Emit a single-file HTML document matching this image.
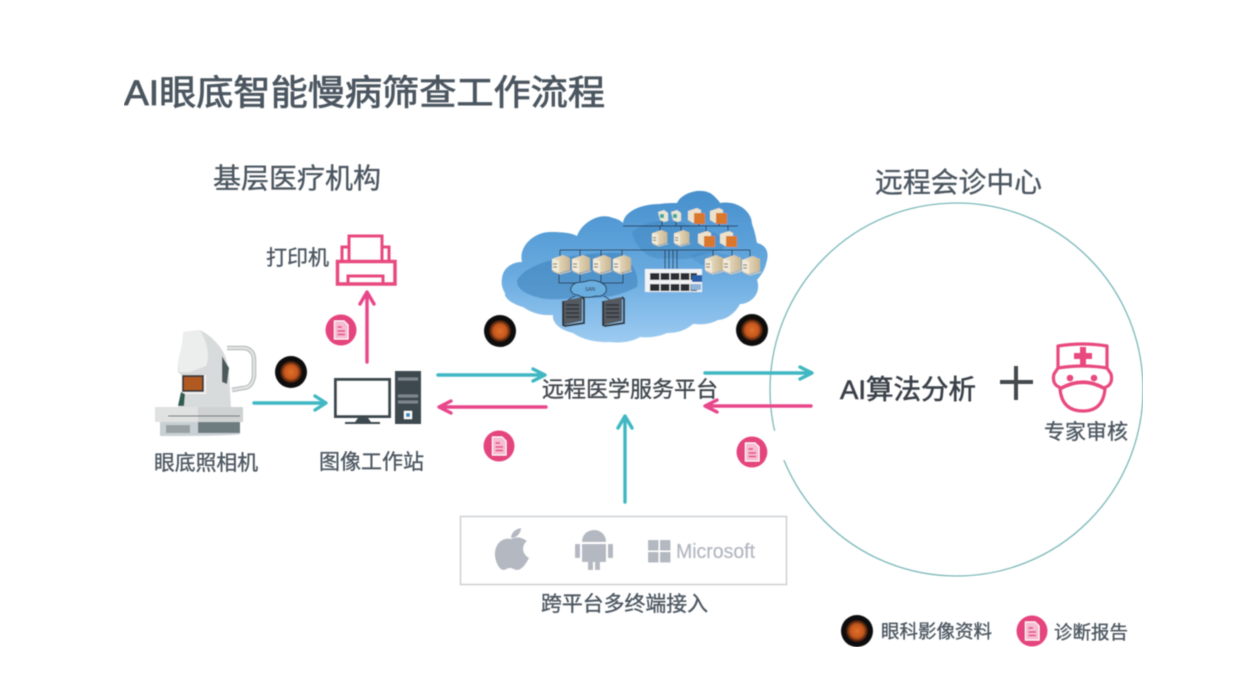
<!DOCTYPE html>
<html><head><meta charset="utf-8">
<style>
html,body{margin:0;padding:0;background:#fff}
svg{display:block}
text{font-family:"Liberation Sans","Noto Sans CJK SC",sans-serif;fill:#4c5660;stroke:#4c5660;stroke-width:.35}
</style></head>
<body>
<svg width="1259" height="696" viewBox="0 0 1259 696" xmlns="http://www.w3.org/2000/svg">
<defs>
<filter id="b" x="0" y="0" width="100%" height="100%"><feGaussianBlur stdDeviation=".45"/></filter>
<linearGradient id="cl" x1="0" y1="0" x2="0" y2="1"><stop offset="0" stop-color="#4790cd"/><stop offset=".55" stop-color="#69abe0"/><stop offset="1" stop-color="#9dcbf1"/></linearGradient>
<radialGradient id="ey"><stop offset="0" stop-color="#e0702a"/><stop offset=".42" stop-color="#c4561c"/><stop offset=".6" stop-color="#5a2a10"/><stop offset=".72" stop-color="#0e0c0b"/><stop offset="1" stop-color="#0e0c0b"/></radialGradient>
<linearGradient id="srv" x1="0" y1="0" x2="1" y2="0"><stop offset="0" stop-color="#f3e9d2"/><stop offset="1" stop-color="#c9b690"/></linearGradient>
<g id="eye"><circle r="16" fill="url(#ey)"/></g>
<g id="doc"><circle r="15.500" fill="#e5447e"/><path d="M-6.500-9H3L7-5V9H-6.500Z" fill="#f6bcd2" stroke="#fff" stroke-width="1"/><path d="M-3.500-3H1M-3.500 1H4M-3.500 4.500H4" stroke="#e5447e" stroke-width="1.400" fill="none"/></g>
<g id="s"><path d="M0 4 11 0 18 3V15L7 18 0 15Z" fill="url(#srv)"/><path d="M0 4 7 6V18L0 15Z" fill="#f2ead8"/><path d="M1 9H5M1 12H5" stroke="#6f624d" stroke-width="1"/><path d="M1 16 8 19 19 16" stroke="#d8ccb0" fill="none"/></g>
<g id="o"><path d="M0 3 9 0 13 2V13L5 15 0 12Z" fill="#ece2cb"/><path d="M6 5H17V16H6Z" fill="#d9782a"/></g>
<g id="r"><path d="M0 4 19 0V24L0 28Z" fill="#555a60"/><path d="M0 4V28L2 29 21 26V2L19 0" fill="none" stroke="#2d3136" stroke-width="2"/><path d="M3 8H16M3 12H16M3 16H16M3 20H16" stroke="#2e3237" stroke-width="1.500"/></g>
</defs>
<rect width="1259" height="696" fill="#fff"/>
<g filter="url(#b)">

<text x="124" y="105" font-size="35" textLength="481" lengthAdjust="spacingAndGlyphs" style="stroke-width:.8">AI眼底智能慢病筛查工作流程</text>
<text x="213" y="188" font-size="28" textLength="168" lengthAdjust="spacingAndGlyphs">基层医疗机构</text>
<text x="875" y="192" font-size="28" textLength="167" lengthAdjust="spacingAndGlyphs">远程会诊中心</text>

<circle cx="956.500" cy="389.500" r="186.500" fill="none" stroke="#7cb8ba" stroke-width="1.300"/>
<rect x="765" y="431" width="22" height="29" fill="#fff"/>

<!-- cloud -->
<path d="M502 278C503 268 512 262 522 262C518 246 535 231 552 232C562 232 572 233 577 236C582 222 600 212 613 218C618 219 621 221 623 223C624 212 640 204 660 204C666 203 672 203 677 203C682 192 704 186 714 196C717 199 719 201 720 203C738 200 752 212 752 224C755 232 756 238 757 243C766 245 769 252 767 260C765 270 762 274 757 280C762 294 750 304 740 304C735 314 725 320 718 320C706 326 698 324 693 324C684 332 674 333 667 333C658 337 648 338 640 337C630 343 618 343 610 342C594 343 580 338 573 333C560 330 552 323 553 315C540 316 530 312 523 307C512 304 504 298 505 293C502 288 501 284 502 278Z" fill="url(#cl)"/>
<path d="M517 280C522 272 530 268 537 265C552 258 590 252 620 253C632 262 640 275 637 287C620 296 600 300 580 297C560 300 545 300 537 297C525 294 516 288 517 280Z" fill="#3f83bd" opacity=".6"/>
<path d="M632 232C650 216 680 220 692 226C712 230 732 238 722 250C700 254 690 262 670 258C650 262 636 250 632 232Z" fill="#3f83bd" opacity=".42"/>
<path d="M690 255C705 250 730 252 745 262C740 272 700 272 690 255Z" fill="#3f83bd" opacity=".3"/>
<path d="M623 226H738M560 250H750M560 250V256M580 250V256M601 250V256M622 250V256M713 250V256M732 250V256M750 250V256M559 272V283H623V272M580 272V283M601 272V283M665 250V270M669 250V270M673 250V270M677 250V270M660 226V232M681 226V232M706 226V232M728 226V232M662 218V226M676 218V226M699 218V226M719 218V226" stroke="#26384c" stroke-width="1" fill="none"/>
<use href="#s" x="552" y="255"/><use href="#s" x="572" y="255"/><use href="#s" x="593" y="255"/><use href="#s" x="613" y="255"/>
<use href="#s" x="705" y="255"/><use href="#s" x="723" y="255"/><use href="#s" x="742" y="256"/>
<use href="#s" transform="translate(652 230) scale(.85)"/><use href="#s" transform="translate(674 230) scale(.85)"/>
<use href="#o" x="698" y="231"/><use href="#o" x="720" y="231"/>
<path d="M658 212 664 210 668 213V221L664 222 660 220Z" fill="#e8e6d5"/><path d="M660 214H664V218H660Z" fill="#3aa9a0"/>
<path d="M671 212 677 210 681 213V221L677 222 673 220Z" fill="#e8e6d5"/><path d="M673 214H677V218H673Z" fill="#3aa9a0"/>
<use href="#o" x="688" y="208"/><use href="#o" x="710" y="208"/>
<rect x="645" y="269" width="57" height="23" fill="#f1f3f5"/>
<path d="M650 273H697V280H650ZM650 284H697V291H650Z" fill="#2c2f33"/>
<path d="M660 273V291M670 273V291M680 273V291M690 273V291" stroke="#eee" stroke-width="1.200"/>
<rect x="692" y="275" width="10" height="7" fill="#2b5fa8"/><rect x="691" y="284" width="10" height="6" fill="#8fb4d8"/>
<path d="M572 286C575 281 583 283 587 281C594 279 603 282 606 287C608 293 602 297 596 296C590 298 582 298 578 295C572 295 569 290 572 286Z" fill="#6aaee0" stroke="#23344a"/>
<text x="585" y="291" font-size="5" style="fill:#223;stroke:none">SAN</text>
<path d="M575 296 568 300M604 296 610 300" stroke="#23344a"/>
<use href="#r" x="563" y="297"/><use href="#r" x="603" y="297"/>

<!-- arrows -->
<g fill="none" stroke-width="3.400" stroke-linecap="round" stroke-linejoin="round">
<g stroke="#3fb7c2">
<path d="M254 403H325M315 396 326 403 315 410"/>
<path d="M438 375H544M533 369 545 375 533 381"/>
<path d="M705 373H811M800 367 812 373 800 379"/>
<path d="M625 502V417M618 428 625 416 632 428"/>
</g>
<g stroke="#e8468a">
<path d="M367 362V293M360 304 367 292 374 304"/>
<path d="M546 407H440M451 401 439 407 451 413"/>
<path d="M811 406H706M717 400 705 406 717 412"/>
</g>
</g>

<!-- printer -->
<g fill="none" stroke="#e84a7f" stroke-width="3">
<path d="M349 260V236H382V260"/>
<path d="M342 260V247H349M382 247H389V260"/>
<path d="M337.500 261.500H395V284H337.500Z" stroke-width="3.500"/>
<path d="M348 284V276H383V284"/>
</g>
<text x="266" y="265" font-size="21" textLength="63" lengthAdjust="spacingAndGlyphs">打印机</text>

<!-- workstation -->
<rect x="335.500" y="379.500" width="54" height="37" fill="#fff" stroke="#3e4a50" stroke-width="3"/>
<path d="M358 418H368L371 422H380V424H345V422H355Z" fill="#3e4a50"/>
<rect x="395" y="371" width="26" height="53" fill="#3e4a50"/>
<path d="M398 379H418M398 396H418M398 402H418" stroke="#7c868b" stroke-width="3"/>
<rect x="404" y="411" width="8" height="8" fill="#fff"/><rect x="406" y="413" width="4" height="4" fill="#2a8fc2"/>
<text x="319" y="469" font-size="21" textLength="105" lengthAdjust="spacingAndGlyphs">图像工作站</text>

<!-- fundus camera -->
<path d="M227 348H245Q254 350 254 360V376Q252 388 243 388L232 390" fill="none" stroke="#b9bdbe" stroke-width="4.500"/>
<path d="M227 348H245Q254 350 254 360V376Q252 388 243 388L232 390" fill="none" stroke="#e4e6e6" stroke-width="2"/>
<path d="M183 332 200 330C212 336 222 347 226 358L229 372 231 408H178L181 393V375L178 372 178 362C180 352 183 345 183 332Z" fill="#d8dbdb"/>
<path d="M183 332 200 330C208 345 210 356 206 366L190 372H179L178 362C180 352 183 345 183 332Z" fill="#eceeee"/>
<path d="M222 356 229 368 227 384 222 382Z" fill="#4d5a5c"/>
<rect x="181" y="375" width="25" height="19" fill="#f2f2f0"/><rect x="182" y="375" width="22" height="17" fill="#3b3a38"/><rect x="184" y="377" width="18" height="13" fill="#b05a22"/>
<path d="M181 392 178 406H184L185 394Z" fill="#2f5c50"/>
<rect x="155" y="407" width="88" height="15" fill="#e0e2e2"/>
<path d="M198 407H243V422H198Z" fill="#cfd2d2"/>
<path d="M160 422H240V434Q236 436 160 436Z" fill="#c9d0d3"/>
<path d="M198 422H240V433H198Z" fill="#6e7c80"/>
<path d="M168 416H240" stroke="#5f6769" stroke-width="1"/>
<path d="M166 425H190V433H166Z" fill="#97a0a3"/>
<text x="154" y="470" font-size="21" textLength="104" lengthAdjust="spacingAndGlyphs">眼底照相机</text>

<!-- icons -->
<use href="#eye" x="291" y="372"/><use href="#eye" x="500" y="331"/><use href="#eye" x="752" y="330"/><use href="#eye" x="857" y="631"/>
<use href="#doc" x="341" y="330"/><use href="#doc" x="499" y="446"/><use href="#doc" x="752" y="452"/><use href="#doc" x="1032" y="631"/>

<text x="542" y="397" font-size="22" textLength="176" lengthAdjust="spacingAndGlyphs" style="fill:#3f464d;stroke:#3f464d">远程医学服务平台</text>
<text x="840" y="399" font-size="27" textLength="136" lengthAdjust="spacingAndGlyphs" style="fill:#3a4148;stroke:#3a4148;stroke-width:.6">AI算法分析</text>

<path d="M1000 382H1033M1016 366V400" stroke="#444a4e" stroke-width="4" fill="none"/>

<!-- nurse -->
<g fill="none" stroke="#e84a7f" stroke-width="3.200" stroke-linejoin="round">
<path d="M1058 368V346Q1083 342 1107 346V368"/>
<path d="M1058 368Q1083 364 1107 368L1111 374Q1113 382 1108 386L1104 388Q1083 376 1061 388L1057 386Q1052 382 1054 374Z"/>
<path d="M1060 389Q1083 376 1105 389Q1103 411 1083 411Q1062 411 1060 389Z"/>
</g>
<path d="M1080 347H1086V353H1092V359H1086V366H1080V359H1074V353H1080Z" fill="#e84a7f"/>
<circle cx="1070" cy="378" r="3.300" fill="#e84a7f"/><circle cx="1094" cy="378" r="3.300" fill="#e84a7f"/>
<text x="1044" y="439" font-size="21" textLength="84" lengthAdjust="spacingAndGlyphs">专家审核</text>

<!-- platforms -->
<rect x="460.500" y="516.500" width="326" height="68" fill="#fff" stroke="#c8cccf" stroke-width="1.400"/>
<g fill="#b3b8c1">
<path d="M511 539C516 537 520 536 527 541C522 545 521 553 529 558C526 564 522 570 517 570C514 570 513 568 510 568C507 568 506 570 503 570C498 569 494 558 495 552C496 542 504 537 511 539Z"/>
<path d="M511 538C511 533 515 529 521 528C521 533 517 538 511 538Z"/>
<path d="M582 544H606V562H600V570H595V562H593V570H588V562H582ZM575 544H580V558H575ZM608 544H613V558H608Z"/>
<path d="M582 542C582 526 606 526 606 542Z"/>
</g>
<g fill="#b3b8c1"><rect x="648" y="540" width="10.500" height="10.500"/><rect x="660" y="540" width="10.500" height="10.500"/><rect x="648" y="552" width="10.500" height="10.500"/><rect x="660" y="552" width="10.500" height="10.500"/></g>
<text x="676" y="558" font-size="20" textLength="79" lengthAdjust="spacingAndGlyphs" style="fill:#b3b8c1;stroke:#b3b8c1">Microsoft</text>
<text x="541" y="611" font-size="21" textLength="167" lengthAdjust="spacingAndGlyphs">跨平台多终端接入</text>

<text x="881" y="638" font-size="18.500" textLength="111" lengthAdjust="spacingAndGlyphs">眼科影像资料</text>
<text x="1054" y="639" font-size="18.500" textLength="74" lengthAdjust="spacingAndGlyphs">诊断报告</text>
</g>
</svg>
</body></html>
